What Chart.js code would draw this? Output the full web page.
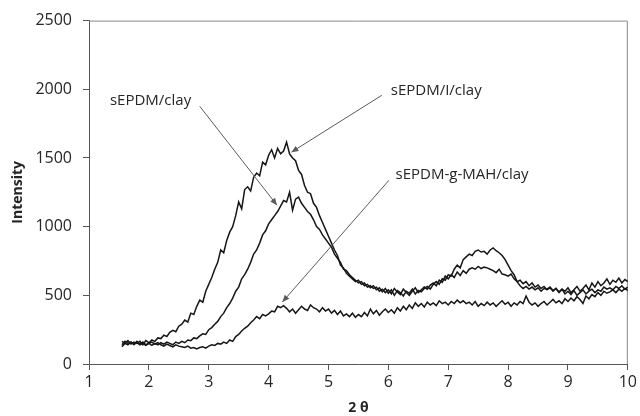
<!DOCTYPE html>
<html>
<head>
<meta charset="utf-8">
<script src="https://cdn.jsdelivr.net/npm/chart.js@4.4.1/dist/chart.umd.min.js"></script>
<style>
  html, body { margin: 0; padding: 0; background: #fff; }
  #wrap { position: relative; width: 640px; height: 416px; }
</style>
</head>
<body>
<div id="wrap"><canvas id="c"></canvas></div>
<script>
// 2θ grid (degrees)
const twoTheta = [
  1.55, 1.60, 1.65, 1.70, 1.75, 1.80, 1.85, 1.90, 1.95, 2.00,
  2.05, 2.10, 2.15, 2.20, 2.25, 2.30, 2.35, 2.40, 2.45, 2.50,
  2.55, 2.60, 2.65, 2.70, 2.75, 2.80, 2.85, 2.90, 2.95, 3.00,
  3.05, 3.10, 3.15, 3.20, 3.25, 3.30, 3.35, 3.40, 3.45, 3.50,
  3.55, 3.60, 3.65, 3.70, 3.75, 3.80, 3.85, 3.90, 3.95, 4.00,
  4.05, 4.10, 4.15, 4.20, 4.25, 4.30, 4.35, 4.40, 4.45, 4.50,
  4.55, 4.60, 4.65, 4.70, 4.75, 4.80, 4.85, 4.90, 4.95, 5.00,
  5.05, 5.10, 5.15, 5.20, 5.25, 5.30, 5.35, 5.40, 5.45, 5.50,
  5.55, 5.60, 5.65, 5.70, 5.75, 5.80, 5.85, 5.90, 5.95, 6.00,
  6.05, 6.10, 6.15, 6.20, 6.25, 6.30, 6.35, 6.40, 6.45, 6.50,
  6.55, 6.60, 6.65, 6.70, 6.75, 6.80, 6.85, 6.90, 6.95, 7.00,
  7.05, 7.10, 7.15, 7.20, 7.25, 7.30, 7.35, 7.40, 7.45, 7.50,
  7.55, 7.60, 7.65, 7.70, 7.75, 7.80, 7.85, 7.90, 7.95, 8.00,
  8.05, 8.10, 8.15, 8.20, 8.25, 8.30, 8.35, 8.40, 8.45, 8.50,
  8.55, 8.60, 8.65, 8.70, 8.75, 8.80, 8.85, 8.90, 8.95, 9.00,
  9.05, 9.10, 9.15, 9.20, 9.25, 9.30, 9.35, 9.40, 9.45, 9.50,
  9.55, 9.60, 9.65, 9.70, 9.75, 9.80, 9.85, 9.90, 9.95, 10.00
];

// sEPDM/I/clay
const iClay = [
  165, 150, 170, 145, 160, 150, 165, 140, 170, 155,
  175, 165, 190, 185, 210, 200, 230, 245, 235, 275,
  290, 320, 305, 370, 360, 420, 465, 450, 530, 580,
  630, 690, 740, 830, 810, 900, 960, 1000, 1080, 1180,
  1130, 1270, 1290, 1260, 1360, 1390, 1370, 1470, 1450, 1520,
  1560, 1500, 1570, 1530, 1550, 1615, 1530, 1500, 1480, 1410,
  1380, 1300, 1250, 1240, 1170, 1140, 1080, 1030, 980, 930,
  880, 830, 790, 720, 700, 660, 640, 620, 600, 610,
  580, 590, 560, 570, 550, 560, 530, 545, 520, 540,
  510, 550, 525, 505, 545, 520, 500, 530, 555, 520,
  540, 560, 545, 575, 590, 570, 610, 595, 640, 620,
  650, 630, 670, 645, 680, 660, 690, 700, 690, 710,
  695, 705, 700, 690, 680, 665, 690, 655, 650, 640,
  655, 620, 600, 610, 585, 600, 570, 590, 560, 575,
  550, 565, 540, 555, 530, 550, 520, 545, 510, 530,
  505, 535, 500, 520, 540, 510, 530, 545, 520, 540,
  530, 560, 545, 555, 540, 565, 550, 570, 545, 560
];

// sEPDM/clay
const clay = [
  140, 165, 150, 160, 140, 165, 145, 160, 140, 150,
  135, 150, 140, 155, 145, 160, 150, 140, 160, 150,
  165, 155, 175, 170, 190, 185, 205, 220, 215, 250,
  265, 290, 310, 345, 370, 410, 440, 480, 530, 560,
  620, 650, 690, 740, 800, 830, 880, 940, 970, 1020,
  1050, 1080, 1110, 1150, 1190, 1180, 1250, 1120, 1200, 1215,
  1170, 1140, 1110, 1090, 1050, 1000, 980, 940, 910, 880,
  850, 800, 770, 740, 690, 680, 650, 630, 610, 590,
  600, 570, 580, 555, 570, 540, 555, 525, 550, 515,
  540, 500, 535, 520, 495, 530, 515, 545, 510, 535,
  525, 550, 565, 545, 580, 600, 580, 620, 610, 650,
  640, 690, 720, 700, 760, 780, 800, 790, 820, 830,
  815, 820, 800, 830, 845, 825, 810, 790, 760, 720,
  680, 650, 600, 570, 550, 565, 545, 560, 540, 555,
  530, 550, 545, 560, 535, 550, 525, 545, 530, 555,
  520, 540, 565, 530, 550, 575, 540, 590, 560, 600,
  570, 590, 620, 580, 610, 595, 625, 590, 615, 600
];

// sEPDM-g-MAH/clay
const mahClay = [
  125, 150, 140, 160, 145, 155, 140, 150, 135, 150,
  160, 145, 155, 140, 130, 145, 135, 125, 140, 130,
  125, 120, 130, 115, 120, 110, 120, 125, 115, 130,
  140, 135, 150, 145, 160, 150, 175, 165, 200, 215,
  240, 260, 275, 300, 320, 345, 330, 360, 350, 365,
  385, 380, 420, 410, 425, 405, 380, 400, 370, 395,
  420, 400, 390, 430, 410, 400, 380, 410, 385, 400,
  370, 390, 360, 385, 350, 365, 345, 370, 340, 360,
  345, 375, 350, 400, 365, 390, 355, 380, 400, 375,
  395, 370, 410, 385, 420, 395, 430, 405, 445, 420,
  440, 415, 450, 430, 445, 425, 460, 440, 450, 430,
  455, 440, 465, 445, 460, 440, 450, 430, 455, 420,
  440, 425, 450, 430, 445, 420, 440, 460, 435, 450,
  420, 445, 430, 455, 440, 495, 450, 430, 445, 420,
  440, 455, 430, 450, 470, 445, 460, 440, 475, 455,
  480, 460, 490, 470, 440, 495, 475, 505, 490, 520,
  500, 530, 515, 525, 540, 520, 545, 530, 550, 535
];

const xTicks = [1, 2, 3, 4, 5, 6, 7, 8, 9, 10];
const yTicks = [0, 500, 1000, 1500, 2000, 2500];

// callouts: label text, where it sits, and where its arrow points (data units)
const notes = [
  { text: "sEPDM/clay",       tx: 1.35, ty: 1920, from: [2.85, 1876], to: [4.14, 1156] },
  { text: "sEPDM/I/clay",     tx: 6.04, ty: 1993, from: [5.89, 1956], to: [4.38, 1542] },
  { text: "sEPDM-g-MAH/clay", tx: 6.12, ty: 1375, from: [6.01, 1338], to: [4.23, 451] },
];

const pts = ys => twoTheta.map((x, i) => ({ x, y: ys[i] }));
const line = (label, ys) => ({
  label, data: pts(ys), borderColor: "#161616", borderWidth: 1.5,
  pointRadius: 0, tension: 0, fill: false,
});

const FONT = "'Open Sans', 'DejaVu Sans', sans-serif";
const INK = "#262626";

const frame = {
  id: "frame",
  beforeDatasetsDraw(chart) {
    const { ctx, chartArea: a } = chart;
    ctx.save();
    ctx.strokeStyle = "#8a8a8a";
    ctx.lineWidth = 1;
    ctx.beginPath();
    ctx.moveTo(a.left, a.top + 0.5);
    ctx.lineTo(a.right - 0.5, a.top + 0.5);
    ctx.lineTo(a.right - 0.5, a.bottom);
    ctx.stroke();
    ctx.restore();
  },
  afterDatasetsDraw(chart) {
    const { ctx, scales: { x, y } } = chart;
    ctx.save();
    ctx.font = `15px ${FONT}`;
    ctx.textBaseline = "middle";
    notes.forEach(n => {
      ctx.fillStyle = INK;
      ctx.fillText(n.text, x.getPixelForValue(n.tx), y.getPixelForValue(n.ty));
      const x0 = x.getPixelForValue(n.from[0]), y0 = y.getPixelForValue(n.from[1]);
      const x1 = x.getPixelForValue(n.to[0]),   y1 = y.getPixelForValue(n.to[1]);
      ctx.strokeStyle = "#5a5a5a";
      ctx.lineWidth = 1;
      ctx.beginPath(); ctx.moveTo(x0, y0); ctx.lineTo(x1, y1); ctx.stroke();
      const ang = Math.atan2(y1 - y0, x1 - x0), L = 7, W = 3;
      ctx.fillStyle = "#5a5a5a";
      ctx.beginPath();
      ctx.moveTo(x1, y1);
      ctx.lineTo(x1 - L * Math.cos(ang) + W * Math.sin(ang), y1 - L * Math.sin(ang) - W * Math.cos(ang));
      ctx.lineTo(x1 - L * Math.cos(ang) - W * Math.sin(ang), y1 - L * Math.sin(ang) + W * Math.cos(ang));
      ctx.closePath(); ctx.fill();
    });
    ctx.restore();
  },
};

new Chart(document.getElementById("c"), {
  type: "line",
  data: {
    datasets: [
      line("sEPDM/I/clay", iClay),
      line("sEPDM/clay", clay),
      line("sEPDM-g-MAH/clay", mahClay),
    ],
  },
  options: {
    responsive: true, maintainAspectRatio: false, animation: false,
    layout: { padding: { top: 20, right: 10, left: 0, bottom: 0 } },
    plugins: { legend: { display: false }, tooltip: { enabled: false } },
    scales: {
      x: {
        type: "linear", min: 1, max: 10,
        afterBuildTicks: s => { s.ticks = xTicks.map(v => ({ value: v })); },
        afterFit: s => { s.height = 52; },
        grid: { drawOnChartArea: false, drawTicks: true, tickLength: 6, color: "#555" },
        border: { color: "#555", width: 1 },
        ticks: { font: { family: FONT, size: 16 }, color: INK, padding: 3, maxRotation: 0, callback: v => String(v) },
        title: { display: true, text: "2 θ", font: { family: FONT, size: 14, weight: "bold" }, color: INK, padding: { top: 0, bottom: 0 } },
      },
      y: {
        min: 0, max: 2500,
        afterBuildTicks: s => { s.ticks = yTicks.map(v => ({ value: v })); },
        afterFit: s => { s.width = 89; },
        grid: { drawOnChartArea: false, drawTicks: true, tickLength: 6, color: "#555" },
        border: { color: "#555", width: 1 },
        ticks: { font: { family: FONT, size: 16 }, color: INK, padding: 11, callback: v => String(v) },
        title: { display: true, text: "Intensity", font: { family: FONT, size: 14, weight: "bold" }, color: INK, padding: { top: 10, bottom: 0 } },
      },
    },
  },
  plugins: [frame],
});
</script>
</body>
</html>
